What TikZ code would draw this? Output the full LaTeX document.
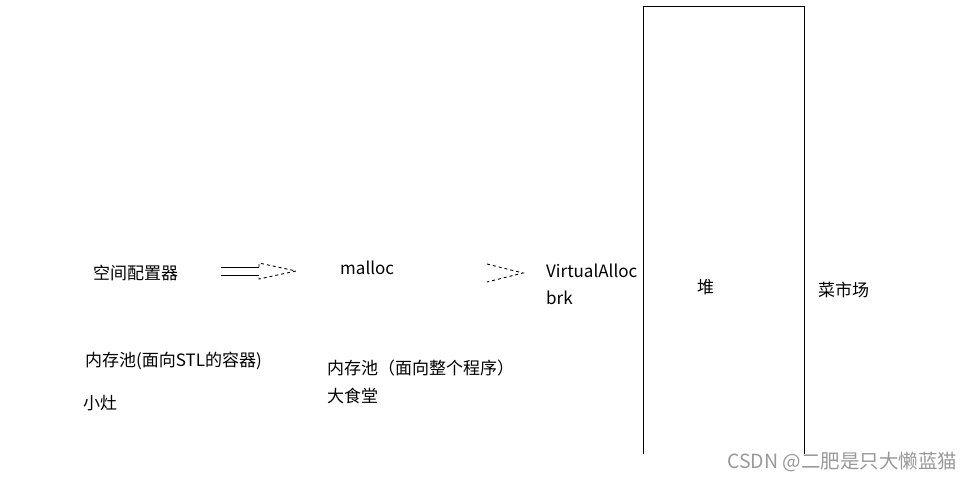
\documentclass[tikz,border=0pt]{standalone}
\usepackage{fontspec}
\setmainfont{Noto Sans CJK SC}
\begin{document}
\begin{tikzpicture}[x=1pt,y=-1pt,
  lbl/.style={anchor=west,inner sep=0pt,font=\fontsize{17}{19}\selectfont},
  wm/.style={anchor=west,inner sep=0pt,font=\fontsize{19.5}{21}\selectfont,text=black!40},
  dsh/.style={line width=0.9pt,dash pattern=on 3pt off 3pt},
  sol/.style={line width=1pt}]
\useasboundingbox (0,0) rectangle (973,482);
% texts
\node[lbl] (alloc) at (93,273) {空间配置器};
\node[lbl] (malloc) at (340,268) {malloc};
\node[lbl] (va) at (546,271) {VirtualAlloc};
\node[lbl] (brk) at (546,298) {brk};
\node[lbl] (heap) at (697,287) {堆};
\node[lbl] (market) at (818,290) {菜市场};
\node[lbl] (pool1) at (85,361) {内存池(面向STL的容器)};
\node[lbl] (small) at (83,403) {小灶};
\node[lbl] (pool2) at (327,368) {内存池（面向整个程序）};
\node[lbl] (canteen) at (327,396) {大食堂};
\node[wm] (mark) at (727,462) {CSDN @二肥是只大懒蓝猫};
% first arrow (double shaft, dashed head)
\coordinate (s1) at (221,267);
\coordinate (s2) at (221,275);
\coordinate (h1) at (259,267);
\coordinate (h2) at (259,275);
\coordinate (t1) at (259,263);
\coordinate (t2) at (259,279);
\coordinate (tip1) at (296,271);
\draw[sol] (s1) -- (h1);
\draw[sol] (s2) -- (h2);
\draw[dsh] (h1) -- (t1) -- (tip1) -- (t2) -- (h2);
% second arrow (dashed chevron)
\coordinate (c1) at (487,264);
\coordinate (c2) at (487,282);
\coordinate (tip2) at (523,273);
\draw[dsh] (c1) -- (tip2) -- (c2);
% heap box (open at bottom)
\coordinate (bl) at (643,454);
\coordinate (tl) at (643,6);
\coordinate (tr) at (804,6);
\coordinate (br) at (804,454);
\draw[sol] (bl) -- (tl) -- (tr) -- (br);
\end{tikzpicture}
\end{document}
